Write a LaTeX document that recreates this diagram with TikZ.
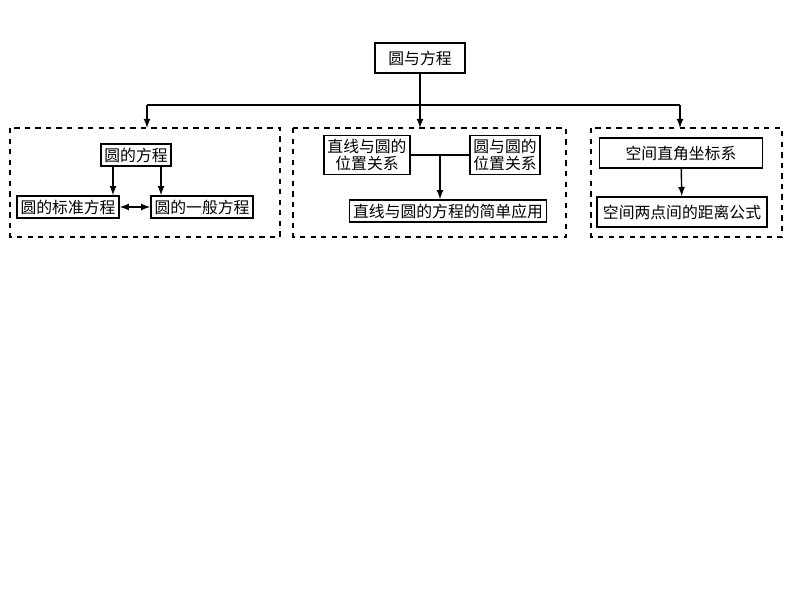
\documentclass[tikz,border=0pt]{standalone}
\usepackage{fontspec}
\newfontfamily\cjk{Noto Sans CJK SC}[BoldFont={Noto Sans CJK SC Bold}]
\tikzset{>=latex}
\tikzset{
  topic/.style={draw,line width=1pt,inner sep=2pt,font=\cjk\fontsize{9}{10}\selectfont,align=center},
  group/.style={draw,dashed,line width=0.9pt},
  link/.style={line width=0.8pt}
}

\begin{document}
\begin{tikzpicture}[x=0.02cm,y=-0.02cm]
  \useasboundingbox (0,0) rectangle (794,596);
  % root
  \node[topic,minimum width=90*0.02cm,minimum height=30*0.02cm] (root) at (420,58) {圆与方程};
  % dashed groups
  \draw[group] (10,128) rectangle (280,237);
  \draw[group] (293,128) rectangle (566,237);
  \draw[group] (591,128) rectangle (782,237);
  \coordinate (gA) at (147,128);
  \coordinate (gB) at (420,128);
  \coordinate (gC) at (680,128);
  \coordinate (hA) at (147,105);
  \coordinate (hC) at (680,105);
  % first group
  \node[topic] (eq) at (136,155) {圆的方程};
  \node[topic] (std) at (68,207) {圆的标准方程};
  \node[topic] (gen) at (202,207) {圆的一般方程};
  % second group
  \node[topic] (lc) at (367,155) {直线与圆的\\位置关系};
  \node[topic] (cc) at (505,155) {圆与圆的\\位置关系};
  \node[topic] (app) at (448,211) {直线与圆的方程的简单应用};
  \coordinate (mid) at (440,155);
  % third group
  \node[topic,minimum height=30*0.02cm,minimum width=163*0.02cm] (sys) at (681,153) {空间直角坐标系};
  \node[topic,minimum height=30*0.02cm,minimum width=170*0.02cm] (dist) at (682,212) {空间两点间的距离公式};
  % connectors
  \draw[link] (root) -- (420,105);
  \draw[link] (hA) -- (hC);
  \draw[link,->] (hA) -- (gA);
  \draw[link,->] (420,105) -- (gB);
  \draw[link,->] (hC) -- (gC);
  \draw[link,->] (eq.south -| 113,0) -- (std.north -| 113,0);
  \draw[link,->] (eq.south -| 161,0) -- (gen.north -| 161,0);
  \draw[link,<->] (std) -- (gen);
  \draw[link] (lc) -- (cc);
  \draw[link,->] (mid) -- (app.north -| mid);
  \draw[link,->] (sys) -- (dist);
\end{tikzpicture}
\end{document}
